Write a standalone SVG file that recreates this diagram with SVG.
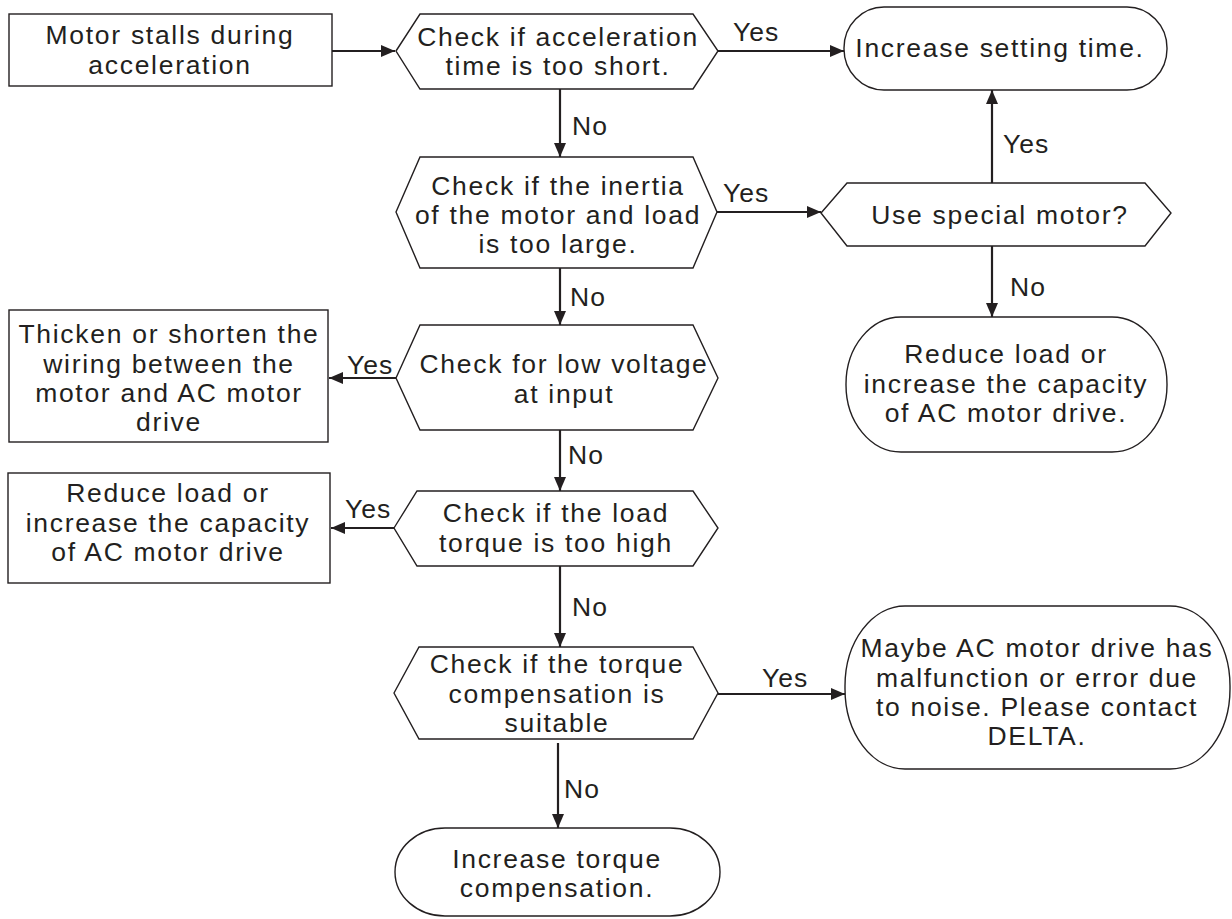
<svg xmlns="http://www.w3.org/2000/svg" width="1232" height="919" viewBox="0 0 1232 919">
<style>
.s{fill:#fff;stroke:#231f20;stroke-width:1.4}
.t{font-family:"Liberation Sans",Arial,sans-serif;font-size:26.5px;letter-spacing:1.7px;fill:#231f20;text-anchor:middle}
.l{font-family:"Liberation Sans",Arial,sans-serif;font-size:26.5px;letter-spacing:1px;fill:#231f20}
.c{stroke:#231f20;stroke-width:2.2;fill:none;marker-end:url(#a)}
</style>
<defs>
<marker id="a" markerUnits="userSpaceOnUse" markerWidth="16" markerHeight="14" refX="14" refY="7" orient="auto">
<path d="M0,1 L14,7 L0,13 Z" fill="#231f20"/>
</marker>
</defs>
<rect width="1232" height="919" fill="#fff"/>
<g id="connectors">
<line class="c" x1="332" y1="51" x2="395" y2="51"/>
<line class="c" x1="718" y1="51" x2="844" y2="51"/>
<line class="c" x1="560" y1="89" x2="560" y2="157"/>
<line class="c" x1="717" y1="212" x2="821" y2="212"/>
<line class="c" x1="992" y1="183" x2="992" y2="90"/>
<line class="c" x1="992" y1="246" x2="992" y2="317"/>
<line class="c" x1="560" y1="268" x2="560" y2="325"/>
<line class="c" x1="396" y1="378" x2="329" y2="378"/>
<line class="c" x1="560" y1="430" x2="560" y2="491"/>
<line class="c" x1="394" y1="528" x2="331" y2="528"/>
<line class="c" x1="560" y1="566" x2="560" y2="647"/>
<line class="c" x1="718" y1="694" x2="845" y2="694"/>
<line class="c" x1="558" y1="743" x2="558" y2="828"/>
<text class="l" x="733" y="41">Yes</text>
<text class="l" x="572" y="135">No</text>
<text class="l" x="723" y="202">Yes</text>
<text class="l" x="1003" y="153">Yes</text>
<text class="l" x="1010" y="296">No</text>
<text class="l" x="570" y="306">No</text>
<text class="l" x="347" y="374">Yes</text>
<text class="l" x="568" y="464">No</text>
<text class="l" x="345" y="518">Yes</text>
<text class="l" x="572" y="616">No</text>
<text class="l" x="762" y="687">Yes</text>
<text class="l" x="564" y="798">No</text>
</g>
<g id="start">
<rect class="s" x="9" y="14" width="323" height="72"/>
<text class="t" x="170" y="44">Motor stalls during</text>
<text class="t" x="170" y="74">acceleration</text>
</g>
<g id="d1">
<polygon class="s" points="396,51 420,14 693,14 718,51 693,89 420,89"/>
<text class="t" x="558" y="46">Check if acceleration</text>
<text class="t" x="558" y="75">time is too short.</text>
</g>
<g id="t1">
<rect class="s" x="844" y="7" width="323" height="83" rx="40" ry="41"/>
<text class="t" x="1000" y="57">Increase setting time.</text>
</g>
<g id="d2">
<polygon class="s" points="396,212 420,157 693,157 717,212 693,268 420,268"/>
<text class="t" x="558" y="195">Check if the inertia</text>
<text class="t" x="558" y="224">of the motor and load</text>
<text class="t" x="558" y="253">is too large.</text>
</g>
<g id="d3">
<polygon class="s" points="821,213 847,183 1145,183 1171,213 1145,246 847,246"/>
<text class="t" x="1000" y="224">Use special motor?</text>
</g>
<g id="t2">
<rect class="s" x="846" y="317" width="321" height="135" rx="55" ry="67"/>
<text class="t" x="1006" y="363">Reduce load or</text>
<text class="t" x="1006" y="393">increase the capacity</text>
<text class="t" x="1006" y="422">of AC motor drive.</text>
</g>
<g id="b1">
<rect class="s" x="9" y="310" width="319" height="132"/>
<text class="t" x="169" y="343">Thicken or shorten the</text>
<text class="t" x="169" y="373">wiring between the</text>
<text class="t" x="169" y="402">motor and AC motor</text>
<text class="t" x="169" y="431">drive</text>
</g>
<g id="d4">
<polygon class="s" points="396,378 420,325 693,325 718,378 693,430 420,430"/>
<text class="t" x="564" y="373">Check for low voltage</text>
<text class="t" x="564" y="403">at input</text>
</g>
<g id="b2">
<rect class="s" x="8" y="473" width="322" height="110"/>
<text class="t" x="168" y="502">Reduce load or</text>
<text class="t" x="168" y="532">increase the capacity</text>
<text class="t" x="168" y="561">of AC motor drive</text>
</g>
<g id="d5">
<polygon class="s" points="394,528 417,491 693,491 718,528 693,566 417,566"/>
<text class="t" x="556" y="522">Check if the load</text>
<text class="t" x="556" y="552">torque is too high</text>
</g>
<g id="d6">
<polygon class="s" points="394,693 419,647 693,647 718,693 693,739 419,739"/>
<text class="t" x="557" y="673">Check if the torque</text>
<text class="t" x="557" y="703">compensation is</text>
<text class="t" x="557" y="732">suitable</text>
</g>
<g id="t3">
<rect class="s" x="845" y="606" width="385" height="163" rx="60" ry="80"/>
<text class="t" x="1037" y="657">Maybe AC motor drive has</text>
<text class="t" x="1037" y="687">malfunction or error due</text>
<text class="t" x="1037" y="716">to noise. Please contact</text>
<text class="t" x="1037" y="745">DELTA.</text>
</g>
<g id="t4">
<rect class="s" x="395" y="828" width="325" height="88" rx="50" ry="44"/>
<text class="t" x="557" y="868">Increase torque</text>
<text class="t" x="557" y="897">compensation.</text>
</g>
</svg>
